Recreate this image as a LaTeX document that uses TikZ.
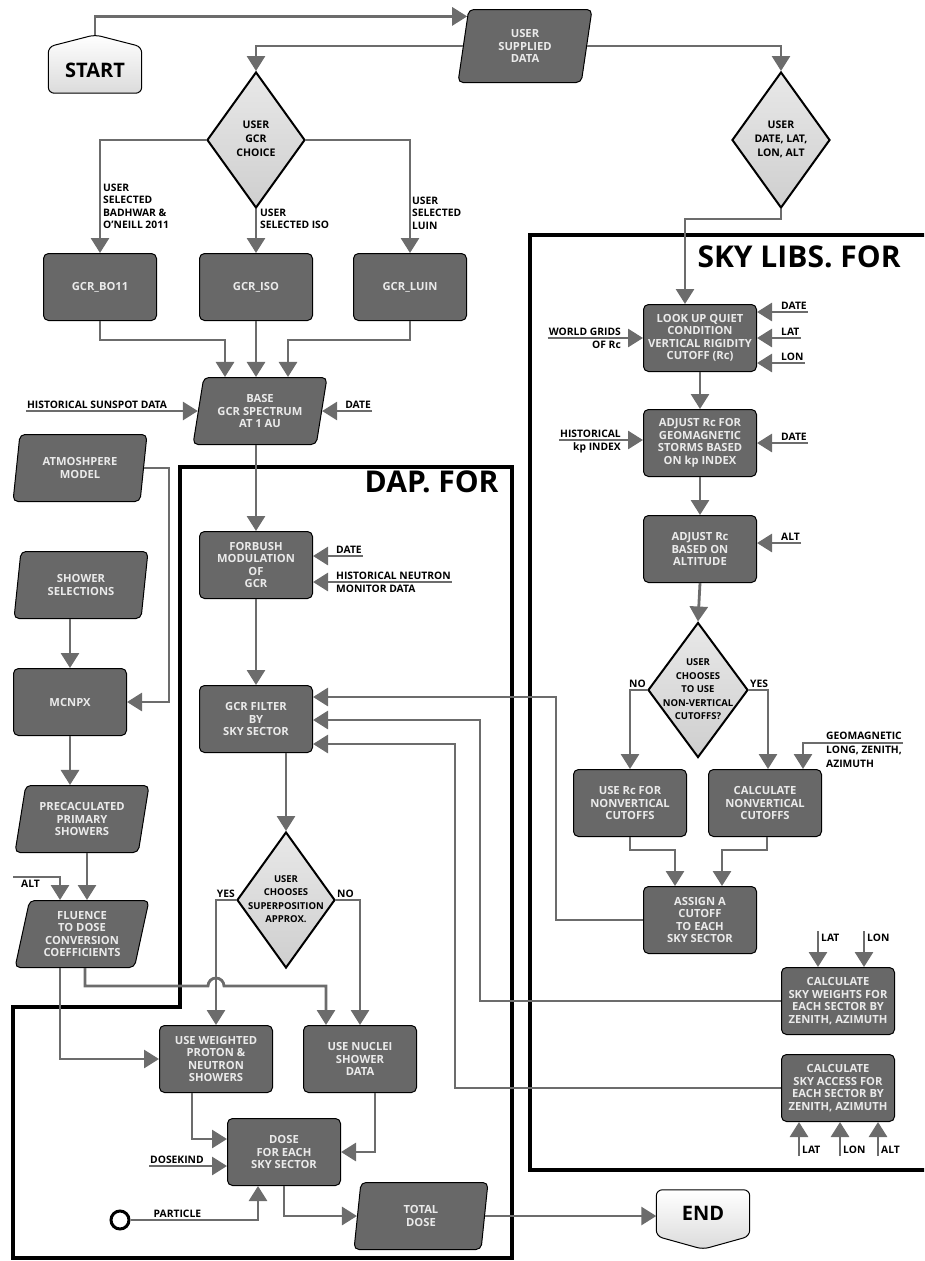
\documentclass[tikz,border=0pt]{standalone}
\usepackage{fontspec}
\setmainfont{Open Sans}
\usetikzlibrary{shapes.geometric,arrows.meta,calc,backgrounds}
\definecolor{boxgray}{RGB}{104,104,104}
\definecolor{boxtext}{RGB}{234,234,234}
\definecolor{flowgray}{RGB}{108,108,108}
\newcommand{\dtext}[1]{\makebox[0pt]{\begin{tabular}{@{}c@{}}#1\end{tabular}}}

\begin{document}
\begin{tikzpicture}[x=1pt,y=-1pt,
    proc/.style={draw=black, line width=1pt, fill=boxgray, text=boxtext, rounded corners=5pt,
        minimum width=113pt, minimum height=67pt, inner sep=1pt, align=center,
        font=\fontsize{11.2}{12.5}\selectfont\bfseries},
    io/.style={proc, trapezium, trapezium left angle=73, trapezium right angle=107,
        trapezium stretches body, minimum width=134pt},
    choice/.style={diamond, draw=black, line width=2pt, top color=gray!18, bottom color=gray!38,
        minimum width=98pt, minimum height=136pt, inner sep=0pt, font=\fontsize{10.5}{14}\selectfont\bfseries},
    term/.style={minimum width=93pt, minimum height=46pt, font=\fontsize{20}{24}\selectfont\bfseries},
    termline/.style={draw=black, line width=1pt, rounded corners=6pt, top color=white, bottom color=gray!28},
    flow/.style={draw=flowgray, line width=2.8pt, -{Triangle[width=18pt,length=15pt]}},
    tag/.style={inner xsep=1pt, inner ysep=2.5pt, align=left, font=\fontsize{10.3}{12.5}\selectfont\bfseries},
    frame/.style={draw=black, line width=4.5pt},
    title/.style={font=\fontsize{30}{34}\selectfont\bfseries}]
    \useasboundingbox (0,0) rectangle (924,1261);
    \clip (0,0) rectangle (924,1261);

    \draw[frame] (180,467) -- (512,467) -- (512,1258) -- (13,1258) -- (13,1007) -- (180,1007) -- cycle;
    \draw[frame] (940,235) -- (530,235) -- (530,1170) -- (940,1170);
    \node[title, anchor=north east] (daptitle) at (502,467) {DAP. FOR};
    \node[title, anchor=west] (skytitle) at (694,257) {SKY LIBS. FOR};

    \node[term] (start) at (95,70) {START};
    \node[term] (fin) at (703,1213) {END};
    \begin{scope}[on background layer]
        \draw[termline] (start.south west) -- (start.north west) -- ($(start.north)+(0,-12)$) -- (start.north east) -- (start.south east) -- cycle;
        \draw[termline] (fin.north west) -- (fin.south west) -- ($(fin.south)+(0,13)$) -- (fin.south east) -- (fin.north east) -- cycle;
    \end{scope}

    \node[io, minimum height=73pt] (usd) at (525,46) {USER\\SUPPLIED\\DATA};
    \node[choice] (gcrc) at (256,140) {\dtext{USER\\GCR\\CHOICE}};
    \node[choice] (udata) at (781,140) {\dtext{USER\\DATE, LAT,\\LON, ALT}};
    \node[proc] (bo11) at (100,287) {GCR\_BO11};
    \node[proc] (iso) at (256,287) {GCR\_ISO};
    \node[proc] (luin) at (410,287) {GCR\_LUIN};
    \node[io] (base) at (260,411) {BASE\\GCR SPECTRUM\\AT 1 AU};
    \node[io] (atmos) at (80,468) {ATMOSHPERE\\MODEL};
    \node[io] (shower) at (81,585) {SHOWER\\SELECTIONS};
    \node[proc] (mcnpx) at (70,702) {MCNPX};
    \node[io] (precalc) at (82,819) {PRECACULATED\\PRIMARY\\SHOWERS};
    \node[io] (fluence) at (82,934) {FLUENCE\\TO DOSE\\CONVERSION\\COEFFICIENTS};
    \node[proc] (forbush) at (256,565) {FORBUSH\\MODULATION\\OF\\GCR};
    \node[proc] (filter) at (256,719) {GCR FILTER\\BY\\SKY SECTOR};
    \node[choice, font=\fontsize{9.5}{13.5}\selectfont\bfseries] (superpos) at (286,900) {\dtext{USER\\CHOOSES\\SUPERPOSITION\\APPROX.}};
    \node[proc] (weighted) at (216,1059) {USE WEIGHTED\\PROTON \&\\NEUTRON\\SHOWERS};
    \node[proc] (nuclei) at (360,1059) {USE NUCLEI\\SHOWER\\DATA};
    \node[proc] (dose) at (284,1152) {DOSE\\FOR EACH\\SKY SECTOR};
    \node[io] (total) at (421,1216) {TOTAL\\DOSE};
    \node[circle, draw=black, line width=3pt, fill=white, minimum size=18pt, inner sep=0pt] (particle) at (120,1220) {};

    \node[proc] (lookup) at (700,338) {LOOK UP QUIET\\CONDITION\\VERTICAL RIGIDITY\\CUTOFF (Rc)};
    \node[proc] (adjgeo) at (700,443) {ADJUST Rc FOR\\GEOMAGNETIC\\STORMS BASED\\ON kp INDEX};
    \node[proc] (adjalt) at (700,549) {ADJUST Rc\\BASED ON\\ALTITUDE};
    \node[choice, font=\fontsize{9.5}{13.5}\selectfont\bfseries, minimum width=100pt, minimum height=135pt] (nonvert) at (698,690) {\dtext{USER\\CHOOSES\\TO USE\\NON-VERTICAL\\CUTOFFS?}};
    \node[proc] (userc) at (630,803) {USE Rc FOR\\NONVERTICAL\\CUTOFFS};
    \node[proc] (calcnv) at (765,803) {CALCULATE\\NONVERTICAL\\CUTOFFS};
    \node[proc] (assign) at (700,920) {ASSIGN A\\CUTOFF\\TO EACH\\SKY SECTOR};
    \node[proc] (weights) at (838,1001) {CALCULATE\\SKY WEIGHTS FOR\\EACH SECTOR BY\\ZENITH, AZIMUTH};
    \node[proc] (access) at (838,1088) {CALCULATE\\SKY ACCESS FOR\\EACH SECTOR BY\\ZENITH, AZIMUTH};

    \coordinate (usdin) at ($(usd.top left corner)!0.1!(usd.bottom left corner)$);
    \draw[flow] ($(start.north)+(0,-12)$) |- (usdin);
    \draw[flow] (usd.west) -| (gcrc.north);
    \draw[flow] (usd.east) -| (udata.north);
    \draw[flow] (gcrc.west) -| (bo11.north);
    \draw[flow] (gcrc.south) -- (iso.north);
    \draw[flow] (gcrc.east) -| (luin.north);
    \node[tag, anchor=north west] (selbo) at (102,181) {USER\\SELECTED\\BADHWAR \&\\O’NEILL 2011};
    \node[tag, anchor=north west] (seliso) at (259,206) {USER\\SELECTED ISO};
    \node[tag, anchor=north west] (selluin) at (411,194) {USER\\SELECTED\\LUIN};

    \draw[flow] (bo11.south) -- ++(0,19) -| ($(iso.south |- base.north)+(-31,0)$);
    \draw[flow] (iso.south) -- (iso.south |- base.north);
    \draw[flow] (luin.south) -- ++(0,19) -| ($(iso.south |- base.north)+(32,0)$);
    \node[tag, anchor=south west] (sunspot) at ($(base.west)+(-172,0)$) {HISTORICAL SUNSPOT DATA};
    \draw[flow] (sunspot.south west) -- (base.west);
    \node[tag, anchor=south west] (bdate) at ($(base.east)+(22,0)$) {DATE};
    \draw[flow] (bdate.south east) -- (base.east);

    \draw[flow] (forbush.north |- base.south) -- (forbush.north);
    \node[tag, anchor=south west] (fdate) at ($(forbush.east)+(22,-9)$) {DATE};
    \draw[flow] (fdate.south east) -- (fdate.south east -| forbush.east);
    \node[tag, anchor=south west] (neutron) at ($(forbush.east)+(22,17)$) {HISTORICAL NEUTRON};
    \node[tag, anchor=north west] (monitor) at (neutron.south west) {MONITOR DATA};
    \draw[flow] (neutron.south east) -- (neutron.south east -| forbush.east);

    \draw[flow] (atmos.east) -- ++(25,0) |- (mcnpx.east);
    \draw[flow] (mcnpx.north |- shower.south) -- (mcnpx.north);
    \draw[flow] (mcnpx.south) -- (mcnpx.south |- precalc.north);
    \draw[flow] ($(precalc.center |- precalc.south)+(5,0)$) -- ($(precalc.center |- fluence.north)+(5,0)$);
    \node[tag, anchor=north west] (falt) at (20,877) {ALT};
    \draw[flow] ($(falt.north west)+(-7,0)$) -| ($(fluence.center |- fluence.north)+(-22,0)$);

    \draw[flow] (forbush.south) -- (filter.north);
    \draw[flow] (superpos.north |- filter.south) -- (superpos.north);
    \draw[flow] (superpos.west) -| (weighted.north);
    \draw[flow] (superpos.east) -| (nuclei.north);
    \node[tag, anchor=south east] (yes1) at (superpos.west) {YES};
    \node[tag, anchor=south west] (no1) at (superpos.east) {NO};

    \coordinate (hopy) at (0,986);
    \draw[flow] ($(fluence.center |- fluence.south)+(-22,0)$) |- (weighted.west);
    \draw[flow] ($(fluence.center |- fluence.south)+(3,0)$) |- ($(weighted.north |- hopy)+(-8,0)$)
        arc[start angle=180, end angle=360, radius=8] -| ($(nuclei.north)+(-34,0)$);
    \draw[flow] ($(weighted.south)+(-24,0)$) |- ($(dose.west)+(0,-13)$);
    \draw[flow] ($(nuclei.south)+(15,0)$) |- (dose.east);
    \node[tag, anchor=south west] (dkind) at ($(dose.west)+(-78,14)$) {DOSEKIND};
    \draw[flow] (dkind.south west) -- (dkind.south west -| dose.west);
    \node[tag, anchor=south west] (plabel) at ($(particle.east)+(22,0)$) {PARTICLE};
    \draw[flow] (particle.east) -| ($(dose.south)+(-26,0)$);
    \draw[flow] (dose.south) |- (total.west);
    \draw[flow] (total.east) -- (total.east -| fin.west);

    \draw[flow] (udata.south) -- ++(0,10) -| ($(lookup.north)+(-15,0)$);
    \foreach \name/\txt/\dy in {ldate/DATE/-26, llat/LAT/0, llon/LON/25} {
        \node[tag, anchor=south west] (\name) at ($(lookup.east)+(23,\dy)$) {\txt};
        \draw[flow] (\name.south east) -- (\name.south east -| lookup.east);
    }
    \node[tag, anchor=south east] (wgrid) at ($(lookup.west)+(-21,0)$) {WORLD GRIDS};
    \node[tag, anchor=north east] (ofrc) at (wgrid.south east) {OF Rc};
    \draw[flow] (wgrid.south west) -- (lookup.west);

    \draw[flow] (lookup.south) -- (adjgeo.north);
    \node[tag, anchor=south east] (histkp) at ($(adjgeo.west)+(-21,-3)$) {HISTORICAL};
    \node[tag, anchor=north east] (kpidx) at (histkp.south east) {kp INDEX};
    \draw[flow] (histkp.south west) -- (histkp.south west -| adjgeo.west);
    \node[tag, anchor=south west] (gdate) at ($(adjgeo.east)+(23,0)$) {DATE};
    \draw[flow] (gdate.south east) -- (adjgeo.east);
    \draw[flow] (adjgeo.south) -- (adjalt.north);
    \node[tag, anchor=south west] (aalt) at ($(adjalt.east)+(23,-6)$) {ALT};
    \draw[flow] (aalt.south east) -- (aalt.south east -| adjalt.east);
    \draw[flow] (adjalt.south) -- (nonvert.north);

    \draw[flow] (nonvert.west) -| (userc.north);
    \draw[flow] (nonvert.east) -| ($(calcnv.north)+(3,0)$);
    \node[tag, anchor=south east] (no2) at (nonvert.west) {NO};
    \node[tag, anchor=south west] (yes2) at (nonvert.east) {YES};
    \node[tag, anchor=north west, font=\fontsize{10.3}{14}\selectfont\bfseries] (geomag) at (825,729) {GEOMAGNETIC\\LONG, ZENITH,\\AZIMUTH};
    \draw[flow] ($(geomag.north east)+(0,14)$) -| ($(calcnv.north)+(38,0)$);

    \draw[flow] (userc.south) -- ++(0,13) -| ($(assign.north)+(-25,0)$);
    \draw[flow] ($(calcnv.south)+(2,0)$) -- ++(0,13) -| ($(assign.north)+(22,0)$);
    \draw[flow] (assign.west) -- ++(-87,0) |- ($(filter.east)+(0,-22)$);
    \draw[flow] (weights.west) -- ++(-301,0) |- ($(filter.east)+(0,1)$);
    \draw[flow] (access.west) -- ++(-326,0) |- ($(filter.east)+(0,25)$);

    \foreach \name/\txt/\dx in {wlat/LAT/-20, wlon/LON/26} {
        \node[tag, anchor=north west] (\name) at ($(weights.north)+(\dx+2,-36)$) {\txt};
        \draw[flow] ($(\name.north west)+(-2,0)$) -- ($(\name.north west |- weights.north)+(-2,0)$);
    }
    \foreach \name/\txt/\dx in {alat/LAT/-39, alon/LON/2, aalt2/ALT/40} {
        \node[tag, anchor=south west] (\name) at ($(access.south)+(\dx+2,34)$) {\txt};
        \draw[flow] ($(\name.south west)+(-2,0)$) -- ($(\name.south west |- access.south)+(-2,0)$);
    }
\end{tikzpicture}
\end{document}
